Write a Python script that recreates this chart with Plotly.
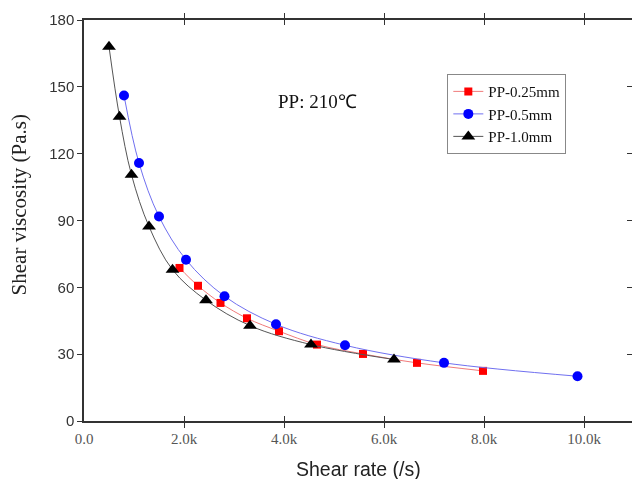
import plotly.graph_objects as go

# PP-0.25mm
x_025 = [1910, 2280, 2730, 3260, 3900, 4660, 5580, 6660, 7980]
y_025 = [68.7, 60.7, 53.0, 46.1, 40.3, 34.3, 30.1, 26.1, 22.5]
# PP-0.5mm
x_05 = [800, 1100, 1500, 2040, 2810, 3840, 5220, 7200, 9870]
y_05 = [146.1, 115.8, 91.8, 72.4, 56.0, 43.4, 34.0, 26.1, 20.1]
# PP-1.0mm
x_10 = [500, 710, 950, 1300, 1770, 2440, 3320, 4540, 6200]
y_10 = [168.0, 136.6, 110.5, 87.3, 67.9, 54.2, 42.8, 34.3, 27.6]

x_tickvals = [0, 2000, 4000, 6000, 8000, 10000]
x_ticktext = ["0.0", "2.0k", "4.0k", "6.0k", "8.0k", "10.0k"]
y_tickvals = [0, 30, 60, 90, 120, 150, 180]

serif = "Liberation Serif"
sans = "Liberation Sans"

fig = go.Figure()
fig.add_trace(go.Scatter(x=x_025, y=y_025, name="PP-0.25mm", mode="lines+markers",
                         line=dict(color="#f07a7a", width=1, shape="spline"),
                         marker=dict(symbol="square", size=8, color="#ff0000")))
fig.add_trace(go.Scatter(x=x_05, y=y_05, name="PP-0.5mm", mode="lines+markers",
                         line=dict(color="#7070f0", width=1, shape="spline"),
                         marker=dict(symbol="circle", size=10, color="#0000ff")))
fig.add_trace(go.Scatter(x=x_10, y=y_10, name="PP-1.0mm", mode="lines+markers",
                         line=dict(color="#555555", width=1, shape="spline"),
                         marker=dict(symbol="triangle-up", size=12, color="#000000")))
# invisible helper trace so the right-hand tick axis is drawn
fig.add_trace(go.Scatter(x=x_05, y=y_05, yaxis="y2", mode="markers", opacity=0,
                         showlegend=False, hoverinfo="skip"))

fig.add_annotation(x=0.4257, y=0.796, xref="paper", yref="paper", text="PP: 210℃",
                   xanchor="center", yanchor="middle",
                   showarrow=False, font=dict(family=serif, size=19, color="#111"))
# axis titles
fig.add_annotation(x=0.5, y=-0.12, xref="paper", yref="paper", text="Shear rate (/s)",
                   xanchor="center", yanchor="middle",
                   showarrow=False, font=dict(family=sans, size=19.5, color="#222"))
fig.add_annotation(x=-0.1194, y=0.539, xref="paper", yref="paper", text="Shear viscosity (Pa.s)",
                   xanchor="center", yanchor="middle", textangle=-90,
                   showarrow=False, font=dict(family=serif, size=21, color="#222"))

fig.update_layout(
    width=632, height=479,
    margin=dict(l=83.5, r=0, t=20, b=57.5),
    plot_bgcolor="white", paper_bgcolor="white",
    showlegend=True,
    legend=dict(x=0.663, y=0.865, xanchor="left", yanchor="top",
                bordercolor="#888", borderwidth=1, bgcolor="white",
                font=dict(family=serif, size=15, color="#111"),
                tracegroupgap=0, itemwidth=30),
    xaxis=dict(range=[0, 10960], tickvals=x_tickvals, ticktext=x_ticktext,
               showgrid=False, zeroline=False, showline=True, linecolor="#333", linewidth=1.5,
               mirror="allticks", ticks="inside", ticklen=5, tickcolor="#333",
               ticklabelstandoff=3,
               tickfont=dict(family=serif, size=15, color="#555")),
    yaxis=dict(range=[0, 180], tickvals=y_tickvals,
               showgrid=False, zeroline=False, showline=True, linecolor="#333", linewidth=1.5,
               mirror=False, ticks="outside", ticklen=5, tickcolor="#333",
               tickfont=dict(family=sans, size=15, color="#333")),
    yaxis2=dict(range=[0, 180], tickvals=y_tickvals, overlaying="y", side="right",
                showgrid=False, zeroline=False, showline=False, showticklabels=False,
                ticks="inside", ticklen=5, tickcolor="#333"),
)
fig.write_html("out.html")
